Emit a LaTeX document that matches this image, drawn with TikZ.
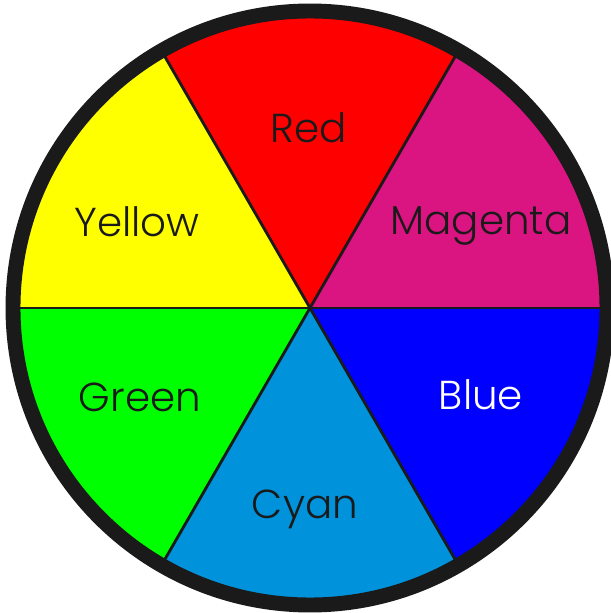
\documentclass[tikz,border=0pt]{standalone}
\usepackage{fontspec}
\setmainfont{Poppins Light}
\usetikzlibrary{calc}
\definecolor{wheelred}{HTML}{FF0000}
\definecolor{wheelmagenta}{HTML}{DA1480}
\definecolor{wheelblue}{HTML}{0000FF}
\definecolor{wheelcyan}{HTML}{0092DA}
\definecolor{wheelgreen}{HTML}{00FF00}
\definecolor{wheelyellow}{HTML}{FFFF00}
\definecolor{wheelink}{HTML}{1A1A1A}

\begin{document}
\begin{tikzpicture}[x=0.02cm, y=0.02cm, lbl/.style={font=\fontsize{23}{23}\selectfont, text=wheelink, anchor=base, inner sep=0pt}, spoke/.style={line width=1.6pt, wheelink}]
	\useasboundingbox (0,0) rectangle (610,613);
	\coordinate (O) at (310,305);
	\fill[wheelred] (O) -- ++(60:296) arc (60:120:296) -- cycle;
	\fill[wheelyellow] (O) -- ++(120:296) arc (120:180:296) -- cycle;
	\fill[wheelgreen] (O) -- ++(180:296) arc (180:240:296) -- cycle;
	\fill[wheelcyan] (O) -- ++(240:296) arc (240:300:296) -- cycle;
	\fill[wheelblue] (O) -- ++(300:296) arc (300:360:296) -- cycle;
	\fill[wheelmagenta] (O) -- ++(0:296) arc (0:60:296) -- cycle;
	\draw[spoke] ($(O)+(0:296)$) -- ($(O)+(180:296)$);
	\draw[spoke] ($(O)+(60:296)$) -- ($(O)+(240:296)$);
	\draw[spoke] ($(O)+(120:296)$) -- ($(O)+(300:296)$);
	\draw[line width=8.5pt, wheelink] (O) circle (297);
	\node[lbl] (red) at (309,470) {Red};
	\node[lbl] (yellow) at (137,376) {Yellow};
	\node[lbl] (magenta) at (481,378) {Magenta};
	\node[lbl] (green) at (140,201) {Green};
	\node[lbl, text=white] (blue) at (481,203) {Blue};
	\node[lbl] (cyan) at (305,94) {Cyan};
\end{tikzpicture}
\end{document}
